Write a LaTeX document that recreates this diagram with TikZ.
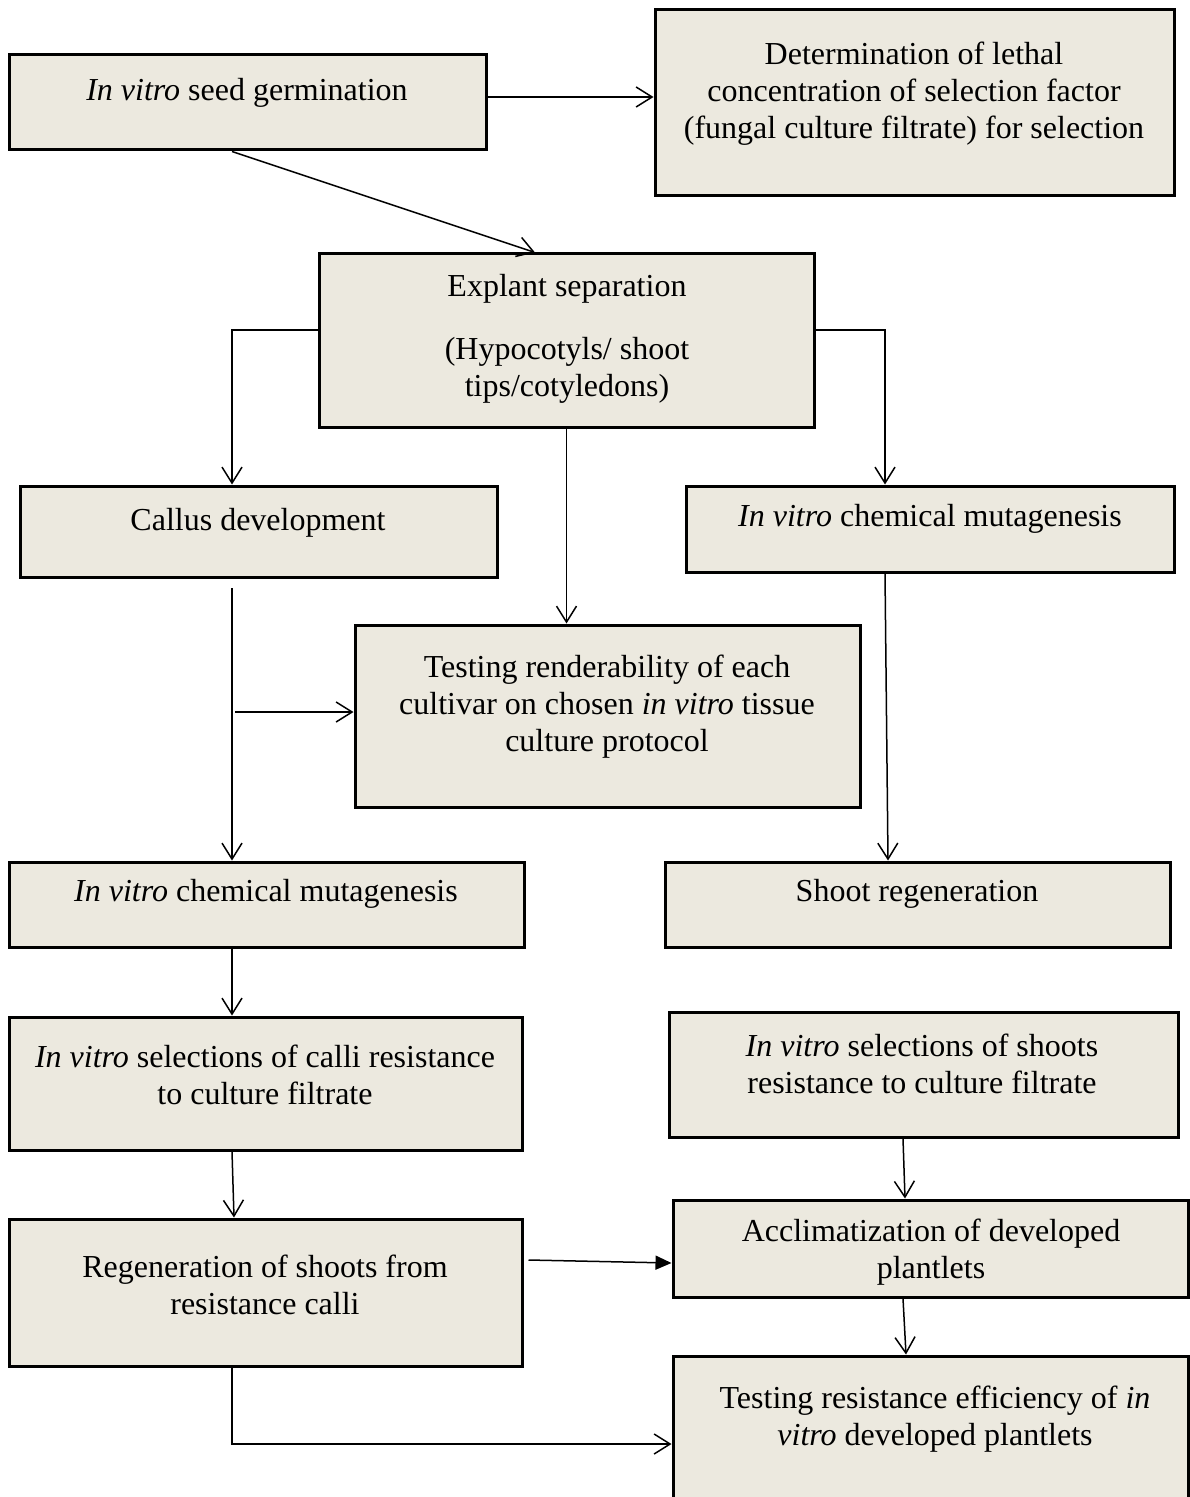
\documentclass[tikz,border=0pt]{standalone}
\usepackage{fontspec}
\setmainfont{Liberation Serif}
\usetikzlibrary{arrows.meta,fit,calc}
\definecolor{boxfill}{RGB}{236,233,223}
\begin{document}
\begin{tikzpicture}[x=0.5pt,y=-0.5pt,
 box/.style={draw, line width=1.5pt, fill=boxfill, inner sep=0pt},
 txt/.style={font=\fontsize{16}{18.5}\selectfont, align=center, inner sep=0pt, yshift=-1.5pt},
 arr/.style={line width=0.75pt, -{Straight Barb[length=8pt,width=10pt]}},
 farr/.style={line width=0.75pt, -{Triangle[length=8pt,width=7pt]}}]
\useasboundingbox (0,0) rectangle (1189,1497);
% boxes
\node[box, fit={(9,55)(486,150)}] (seed) {};
\node[box, fit={(655,10)(1174,196)}] (det) {};
\node[box, fit={(319,254)(814,428)}] (expl) {};
\node[box, fit={(20,486)(497,577)}] (callus) {};
\node[box, fit={(686,486)(1174,572)}] (mutR) {};
\node[box, fit={(355,625)(860,807)}] (rend) {};
\node[box, fit={(9,862)(524,947)}] (mutL) {};
\node[box, fit={(665,862)(1170,947)}] (shoot) {};
\node[box, fit={(9,1017)(522,1150)}] (selC) {};
\node[box, fit={(669,1012)(1178,1137)}] (selS) {};
\node[box, fit={(9,1219)(522,1366)}] (regen) {};
\node[box, fit={(673,1200)(1188,1297)}] (accl) {};
\node[box, fit={(673,1356)(1188,1530)}] (test) {};
% texts
\node[txt] (seedT) at (247,90) {\textit{In vitro} seed germination};
\node[txt] (detT) at (914,91) {Determination of lethal\\concentration of selection factor\\(fungal culture filtrate) for selection};
\node[txt] (explT) at (567,336) {Explant separation\\[13pt](Hypocotyls/ shoot\\tips/cotyledons)};
\node[txt] (callT) at (258,520) {Callus development};
\node[txt] (mutRT) at (930,516) {\textit{In vitro} chemical mutagenesis};
\node[txt] (rendT) at (607,704) {Testing renderability of each\\cultivar on chosen \textit{in vitro} tissue\\culture protocol};
\node[txt] (mutLT) at (266,891) {\textit{In vitro} chemical mutagenesis};
\node[txt] (shootT) at (917,891) {Shoot regeneration};
\node[txt] (selCT) at (265,1071.5) {\textit{In vitro} selections of calli resistance\\to culture filtrate};
\node[txt] (selST) at (922,1060.5) {\textit{In vitro} selections of shoots\\resistance to culture filtrate};
\node[txt] (regT) at (265,1281.5) {Regeneration of shoots from\\resistance calli};
\node[txt] (acclT) at (931,1249.5) {Acclimatization of developed\\plantlets};
\node[txt] (testT) at (935,1416.5) {Testing resistance efficiency of \textit{in}\\\textit{vitro} developed plantlets};
% helper coordinates
\coordinate (k1) at (232,330);
\coordinate (k2) at (885,330);
\coordinate (k3) at (232,588);
\coordinate (k4) at (235,712);
\coordinate (k5) at (232,1444);
% connectors
\draw[arr] ([yshift=2.75pt]seed.east) -- ([yshift=2.75pt]seed.east -| det.west);
\draw[arr] ([xshift=-7.75pt]seed.south) -- ([xshift=-15.75pt]expl.north);
\draw[arr] (expl.west |- k1) -- (k1) -- (k1 |- callus.north);
\draw[arr] (expl.east |- k2) -- (k2) -- (k2 |- mutR.north);
\draw[arr] (expl.south) -- (expl.south |- rend.north);
\draw[arr] (k3) -- (k3 |- mutL.north);
\draw[arr] (k4) -- (k4 -| rend.west);
\draw[arr] (mutR.south -| k2) -- ([xshift=1.5pt]k2 |- shoot.north);
\draw[arr] (mutL.south -| k1) -- (k1 |- selC.north);
\draw[arr] (selC.south -| k1) -- ([xshift=1pt]k1 |- regen.north);
\draw[arr] ([xshift=-10.25pt]selS.south) -- ([xshift=-12.75pt]accl.north);
\draw[arr] ([xshift=-13.75pt]accl.south) -- ([xshift=-12.25pt]test.north);
\draw[farr] ([xshift=2.5pt,yshift=16.25pt]regen.east) -- ([yshift=-7.25pt]accl.west);
\draw[arr] (regen.south -| k5) -- (k5) -- (k5 -| test.west);
\end{tikzpicture}
\end{document}
